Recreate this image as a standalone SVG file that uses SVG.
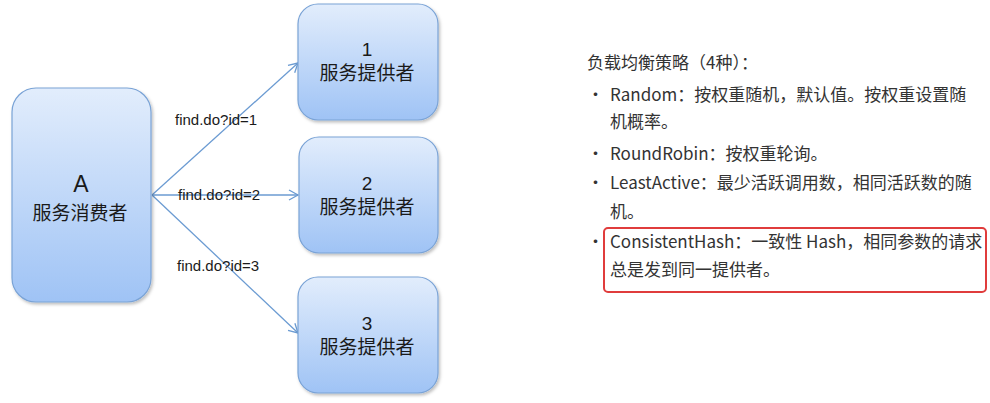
<svg xmlns="http://www.w3.org/2000/svg" width="990" height="403" viewBox="0 0 990 403">
<style>
.box{fill:url(#g);stroke:#7aa3d6;stroke-width:1.2;filter:url(#sh)}
.nt{font-family:"Liberation Sans","Noto Sans CJK SC",sans-serif;font-size:19px;fill:#1a1a1a;text-anchor:middle}
.big{font-size:23px}
.lbl{font-family:"Liberation Sans","Noto Sans CJK SC",sans-serif;font-size:15px;fill:#1a1a1a}
.conn{stroke:#6b9bd2;stroke-width:1.3;fill:none;marker-end:url(#ah)}
.rt{font-family:"Noto Sans CJK SC",sans-serif;font-size:17px;fill:#333}
</style>
<defs>
<linearGradient id="g" x1="0" y1="0" x2="0" y2="1">
<stop offset="0" stop-color="#e2edfc"/>
<stop offset="1" stop-color="#9fc3f5"/>
</linearGradient>
<filter id="sh" x="-10%" y="-10%" width="130%" height="130%">
<feDropShadow dx="1.5" dy="2" stdDeviation="1.5" flood-color="#000" flood-opacity="0.25"/>
</filter>
<marker id="ah" markerWidth="12" markerHeight="12" refX="10" refY="6" orient="auto" markerUnits="userSpaceOnUse">
<path d="M1,1 L10,6 L1,11" fill="none" stroke="#6b9bd2" stroke-width="1.3"/>
</marker>
</defs>
<rect width="990" height="403" fill="#fff"/>
<g id="connectors">
<line class="conn" x1="152" y1="195" x2="298" y2="63"/>
<line class="conn" x1="152" y1="195" x2="298" y2="195"/>
<line class="conn" x1="152" y1="195" x2="298" y2="333"/>
<text class="lbl" x="175" y="125">find.do?id=1</text>
<text class="lbl" x="178" y="200">find.do?id=2</text>
<text class="lbl" x="177" y="271">find.do?id=3</text>
</g>
<g id="nodeA">
<rect class="box" x="12" y="88" width="139" height="214" rx="24"/>
<text class="nt big" x="81" y="192">A</text>
<text class="nt" x="80" y="220">服务消费者</text>
</g>
<g id="node1">
<rect class="box" x="298" y="4" width="140" height="116" rx="20"/>
<text class="nt" x="367" y="56">1</text>
<text class="nt" x="367" y="80">服务提供者</text>
</g>
<g id="node2">
<rect class="box" x="299" y="137" width="139" height="116" rx="20"/>
<text class="nt" x="367" y="190">2</text>
<text class="nt" x="367" y="214">服务提供者</text>
</g>
<g id="node3">
<rect class="box" x="298" y="277" width="140" height="116" rx="20"/>
<text class="nt" x="367" y="330">3</text>
<text class="nt" x="367" y="354">服务提供者</text>
</g>
<g id="notes">
<text class="rt" x="587" y="69">负载均衡策略（4种）：</text>
<text class="rt" x="587" y="101">•</text>
<text class="rt" x="610" y="101">Random：按权重随机，默认值。按权重设置随</text>
<text class="rt" x="610" y="128">机概率。</text>
<text class="rt" x="587" y="160">•</text>
<text class="rt" x="610" y="160">RoundRobin：按权重轮询。</text>
<text class="rt" x="587" y="189">•</text>
<text class="rt" x="610" y="189">LeastActive：最少活跃调用数，相同活跃数的随</text>
<text class="rt" x="610" y="218">机。</text>
<text class="rt" x="587" y="248">•</text>
<text class="rt" x="610" y="248">ConsistentHash：一致性 Hash，相同参数的请求</text>
<text class="rt" x="610" y="276">总是发到同一提供者。</text>
<rect x="604" y="228" width="382" height="64" rx="4" fill="none" stroke="#e03c3c" stroke-width="2"/>
</g>
</svg>
